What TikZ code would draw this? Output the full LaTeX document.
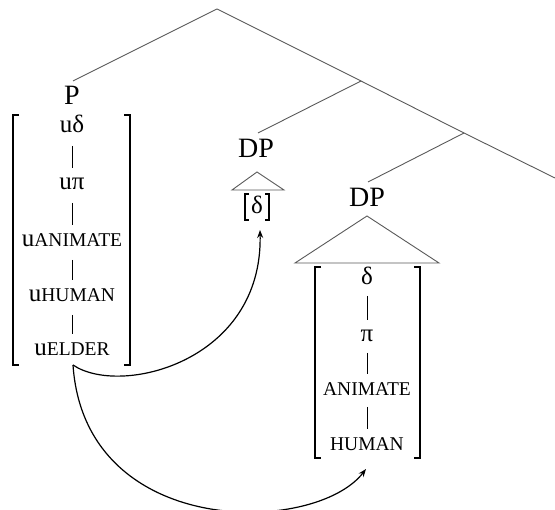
\documentclass[tikz,border=0pt]{standalone}
\usepackage{fontspec}
\setmainfont{Liberation Serif}
\usetikzlibrary{arrows.meta}
\newcommand\fsc[1]{{\fontsize{19.5}{20}\selectfont #1}}
\begin{document}
\begin{tikzpicture}[x=1pt,y=-1pt,
  lab/.style={font=\fontsize{28}{30}\selectfont, inner sep=0pt, anchor=base},
  feat/.style={font=\fontsize{25}{26}\selectfont, inner sep=0pt, anchor=base},
  branch/.style={draw=black!65, line width=0.9pt},
  brk/.style={draw=black, line width=1.2pt},
  bar/.style={draw=black, line width=0.9pt},
  arr/.style={draw=black, line width=1.2pt, -{Stealth[length=8pt,width=6pt]}}]
\useasboundingbox (0,0) rectangle (555,510);
% tree
\coordinate (root) at (217,9);
\coordinate (n1) at (361,81);
\coordinate (n2) at (464,133);
\coordinate (rend) at (555,178);
\node[lab] (P) at (72,105) {P};
\node[lab] (dp1) at (256,158) {DP};
\node[lab] (dp2) at (367,207) {DP};
\draw[branch] (root) -- (73,81);
\draw[branch] (root) -- (n1) -- (n2) -- (rend);
\draw[branch] (n1) -- (258,133);
\draw[branch] (n2) -- (368,182);
% triangles
\draw[branch] (257,172) -- (232,190) -- (284,190) -- cycle;
\draw[branch] (367,216) -- (295,263) -- (439,263) -- cycle;
% left feature column
\node[feat] (a1) at (72,133) {uδ};
\node[feat] (a2) at (72,190) {uπ};
\node[feat] (a3) at (72,247) {u\fsc{ANIMATE}};
\node[feat] (a4) at (72,302) {u\fsc{HUMAN}};
\node[feat] (a5) at (72,356) {u\fsc{ELDER}};
\foreach \p/\q in {a1/a2,a2/a3,a3/a4,a4/a5}
  \draw[bar] ([yshift=-13pt]\p.base) -- ([yshift=22pt]\q.base);
\draw[brk] (19,115) -- (13,115) -- (13,365) -- (19,365);
\draw[brk] (124,115) -- (130,115) -- (130,365) -- (124,365);
% small DP
\node[feat] (d0) at (257,214) {δ};
\draw[brk] (249,194) -- (245,194) -- (245,220) -- (249,220);
\draw[brk] (265,194) -- (269,194) -- (269,220) -- (265,220);
% right feature column
\node[feat] (b1) at (367,285) {δ};
\node[feat] (b2) at (367,342) {π};
\node[feat] (b3) at (367,396) {\fsc{ANIMATE}};
\node[feat] (b4) at (367,451) {\fsc{HUMAN}};
\foreach \p/\q in {b1/b2,b2/b3,b3/b4}
  \draw[bar] ([yshift=-11pt]\p.base) -- ([yshift=22pt]\q.base);
\draw[brk] (321,267) -- (315,267) -- (315,458) -- (321,458);
\draw[brk] (414,267) -- (420,267) -- (420,458) -- (414,458);
% arrows
\coordinate (src) at (73,365);
\coordinate (t1) at (260,230);
\coordinate (t2) at (366,469);
\draw[arr] (src) .. controls (120,397) and (263,362) .. (t1);
\draw[arr] (src) .. controls (85,540) and (315,535) .. (t2);
\end{tikzpicture}
\end{document}
